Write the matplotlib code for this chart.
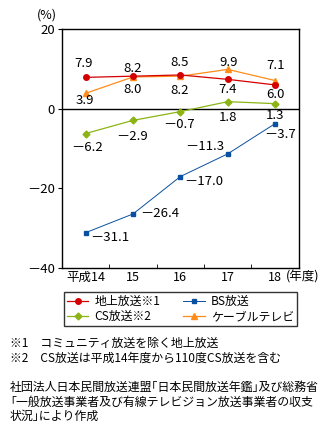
import numpy as np
import matplotlib
matplotlib.use("Agg")
from matplotlib import pyplot as plt

plt.rcParams['font.family'] = ['Noto Sans CJK JP', 'DejaVu Sans']

years = ["平成14", "15", "16", "17", "18"]
chijo = [7.9, 8.2, 8.5, 7.4, 6.0]
bs = [-31.1, -26.4, -17.0, -11.3, -3.7]
cs = [-6.2, -2.9, -0.7, 1.8, 1.3]
cable = [3.9, 8.0, 8.2, 9.9, 7.1]

# label offsets from marker, in pixels (dx right, dy up)
chijo_off = [(-2, 14), (0, 8), (-1, 12.5), (0, -10.5), (0, -10)]
cable_off = [(-1, -7.5), (0, -13), (-1, -14), (1, 6.5), (0, 15)]
cs_off = [(1, -14), (-1, -16.5), (-1, -13), (0, -16), (0, -12)]
bs_off = [(24, -5), (27, 0), (23, -5), (-23, 7), (5, -11)]

def fmt(v):
    s = "%.1f" % abs(v)
    return ("－" + s) if v < 0 else s

fig = plt.figure(figsize=(3.31, 4.29), dpi=100)
ax = fig.add_axes([0.187, 0.375, 0.716, 0.557])

x = np.arange(len(years))
red, blue, green, orange = "#d40000", "#0a50a0", "#8cb414", "#ff8c1a"

ax.plot(x, cable, color=orange, marker="^", ms=4, lw=0.9, label="ケーブルテレビ", zorder=3)
ax.plot(x, chijo, color=red, marker="o", ms=4, lw=0.9, label="地上放送※1", zorder=4)
ax.plot(x, cs, color=green, marker="D", ms=3.5, lw=0.9, label="CS放送※2", zorder=3)
ax.plot(x, bs, color=blue, marker="s", ms=3.5, lw=0.7, label="BS放送", zorder=3)

for series, offs in [(chijo, chijo_off), (cable, cable_off), (cs, cs_off), (bs, bs_off)]:
    for i, v in enumerate(series):
        dx, dy = offs[i]
        ax.annotate(fmt(v), (x[i], v), xytext=(dx * 0.72, dy * 0.72), textcoords="offset points",
                    ha="center", va="center", fontsize=9.5)

ax.axhline(0, color="black", lw=1)
ax.set_xlim(-0.5, 4.5)
ax.set_ylim(-40, 20)
ax.set_yticks([20, 0, -20, -40])
ax.set_yticklabels(["20", "0", "－20", "－40"], fontsize=9.5)
ax.set_xticks(x)
ax.set_xticklabels(years, fontsize=9)
ax.tick_params(axis="x", length=0, pad=2)
ax.set_xticks(np.arange(0.5, 4.5, 1), minor=True)
ax.tick_params(axis="x", which="minor", direction="in", length=3)
ax.tick_params(axis="y", direction="out", length=3, pad=2)
for s in ax.spines.values():
    s.set_linewidth(1)

fig.text(47 / 331, 1 - 15 / 429, "(%)", ha="center", va="center", fontsize=9)
fig.text(303 / 331, 1 - 277 / 429, "(年度)", ha="center", va="center", fontsize=9)

# legend: row 1 = 地上放送, BS放送 ; row 2 = CS放送, ケーブルテレビ
handles, labels = ax.get_legend_handles_labels()
order = [1, 2, 3, 0]
leg = fig.legend([handles[i] for i in order], [labels[i] for i in order], ncol=2,
                 loc="center", bbox_to_anchor=(64 / 331, 1 - 325 / 429, 233 / 331, 32 / 429),
                 mode="expand", fontsize=8.6, frameon=True, fancybox=False,
                 edgecolor="black", handlelength=1.8, borderpad=0.25, labelspacing=0.15,
                 columnspacing=1.0, handletextpad=0.5, borderaxespad=0)
leg.get_frame().set_linewidth(1)

notes = ["※1　コミュニティ放送を除く地上放送",
         "※2　CS放送は平成14年度から110度CS放送を含む"]
fig.text(0.03, 1 - 343 / 429, notes[0], fontsize=8.6, va="center")
fig.text(0.03, 1 - 358 / 429, notes[1], fontsize=8.6, va="center")
src = ["社団法人日本民間放送連盟｢日本民間放送年鑑｣及び総務省",
       "｢一般放送事業者及び有線テレビジョン放送事業者の収支",
       "状況｣により作成"]
src_y = [387, 402, 416]
for line, yy in zip(src, src_y):
    fig.text(0.03, 1 - yy / 429, line, fontsize=8.6, va="center")

fig.savefig("out.png", dpi=100)
